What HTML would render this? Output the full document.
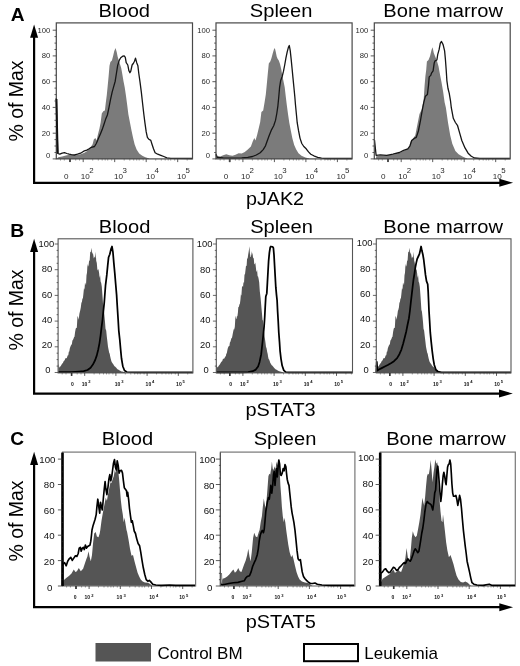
<!DOCTYPE html>
<html><head><meta charset="utf-8"><title>Figure</title>
<style>
html,body{margin:0;padding:0;background:#fff;}
body{width:520px;height:666px;overflow:hidden;}
svg{display:block;filter:blur(0.4px);}
text{font-family:"Liberation Sans",sans-serif;}
.t{font-size:19px;fill:#000;}
.pl{font-size:17.9px;font-weight:bold;fill:#000;}
.lg{font-size:17px;fill:#000;}
.ya{font-size:7.7px;fill:#2a2a2a;text-anchor:end;}
.yb{font-size:9.4px;fill:#111;text-anchor:end;}
.yc{font-size:9.7px;fill:#111;text-anchor:end;}
.xa{font-size:8.1px;fill:#2a2a2a;}
.xas{font-size:7.9px;fill:#2a2a2a;}
.xb{font-size:5px;fill:#111;font-weight:bold;}
.xbs{font-size:4.1px;fill:#111;font-weight:bold;}
</style></head><body>
<svg width="520" height="666" viewBox="0 0 520 666">
<rect width="520" height="666" fill="#fff"/>

<text class="pl" transform="translate(10.8 20.9) scale(1.07 1)">A</text>
<g transform="translate(124.3 16.7) scale(1.060 1)"><text class="t" text-anchor="middle" x="0" y="0">Blood</text></g>
<g transform="translate(281.1 16.7) scale(1.060 1)"><text class="t" text-anchor="middle" x="0" y="0">Spleen</text></g>
<g transform="translate(443.2 16.7) scale(1.060 1)"><text class="t" text-anchor="middle" x="0" y="0">Bone marrow</text></g>
<text class="t" style="font-size:20.2px" text-anchor="middle" transform="translate(22.7 101) rotate(-90) scale(0.965 1)">% of Max</text>
<g transform="translate(275.0 204.9) scale(1.040 1)"><text class="t" text-anchor="middle" x="0" y="0">pJAK2</text></g>
<path d="M34.1 36.7 V182.8 H501.1" fill="none" stroke="#000" stroke-width="2.2"/>
<path d="M34.1 24.4 l-4 13.3 h8 z" fill="#000"/>
<path d="M513.1 182.8 l-13.8 -4 v8 z" fill="#000"/>
<polygon points="56.3,158.9 58.3,157.3 62.2,156.5 66.8,155.3 71.4,154.7 76.0,155.3 80.6,154.2 84.5,152.7 86.8,151.2 89.1,148.8 91.1,146.5 92.6,144.2 93.8,139.6 95.4,138.1 96.6,140.4 97.8,135.0 99.4,128.8 100.6,122.7 101.8,113.5 103.3,111.2 104.9,110.4 105.7,103.5 106.8,95.0 107.7,85.8 108.6,76.5 109.5,65.8 110.4,61.9 111.9,60.4 113.0,56.5 114.2,51.2 115.5,48.1 116.7,51.9 117.6,56.5 118.5,59.6 119.8,63.5 121.2,68.1 122.2,73.5 123.5,81.2 124.7,87.3 126.0,96.0 127.2,105.0 128.4,114.5 130.0,122.7 131.5,130.4 133.1,138.1 134.6,144.2 136.6,149.6 139.2,153.5 142.3,155.8 145.4,157.3 149.2,158.4 149.2,158.9 56.3,158.9" fill="#7b7b7b"/>
<polyline points="56.3,98.0 57.0,127.7 57.8,153.5 59.8,154.2 62.2,153.2 64.5,152.7 66.8,153.5 69.1,154.2 71.4,154.7 74.5,155.0 77.5,154.2 80.6,153.2 83.7,151.2 86.8,150.1 89.1,148.8 91.4,147.3 94.5,146.5 96.3,143.5 98.3,138.8 100.6,133.5 102.2,129.6 104.0,124.2 105.5,119.6 107.4,115.0 109.0,107.3 110.5,99.6 112.2,91.9 113.9,85.8 115.2,81.2 116.4,73.5 117.6,65.8 119.2,60.4 120.7,57.8 122.7,56.2 124.2,55.8 125.3,57.3 126.2,62.7 127.8,65.0 128.8,70.4 129.9,72.7 130.8,71.2 132.1,65.0 133.3,63.5 134.5,61.2 135.5,58.1 136.7,62.7 137.9,65.8 138.8,73.5 140.1,82.7 141.3,91.9 142.6,103.5 143.8,114.0 144.9,122.7 146.2,131.9 147.4,137.3 148.9,139.3 150.8,140.4 152.0,144.2 153.5,148.8 155.1,152.7 157.7,154.2 160.8,155.3 163.8,156.5 166.9,157.8 170.8,158.4 192.3,158.5" fill="none" stroke="#151515" stroke-width="1.3" stroke-linejoin="round"/>
<rect x="56.3" y="22.9" width="136.2" height="136.0" fill="none" stroke="#484848" stroke-width="1.2"/>
<path d="M56.5 99 L57.0 125 L57.7 153.5" stroke="#111" stroke-width="1.9" fill="none"/>
<path d="M56.3 30.2h-3.6M56.3 36.6h-1.8M56.3 43.1h-1.8M56.3 49.5h-1.8M56.3 55.9h-3.6M56.3 62.4h-1.8M56.3 68.8h-1.8M56.3 75.2h-1.8M56.3 81.7h-3.6M56.3 88.1h-1.8M56.3 94.6h-1.8M56.3 101.0h-1.8M56.3 107.4h-3.6M56.3 113.9h-1.8M56.3 120.3h-1.8M56.3 126.7h-1.8M56.3 133.2h-3.6M56.3 139.6h-1.8M56.3 146.0h-1.8M56.3 152.5h-1.8M56.3 158.9h-3.6" stroke="#484848" stroke-width="0.9" fill="none"/>
<text class="ya" x="50.3" y="32.6">100</text>
<text class="ya" x="50.3" y="58.3">80</text>
<text class="ya" x="50.3" y="84.1">60</text>
<text class="ya" x="50.3" y="109.8">40</text>
<text class="ya" x="50.3" y="135.6">20</text>
<text class="ya" x="50.3" y="158.4">0</text>
<path d="M60.5 158.9v1.7M64.3 158.9v1.7M75.7 158.9v1.7M79.5 158.9v1.7M92.7 158.9v1.7M98.3 158.9v1.7M102.2 158.9v1.7M105.2 158.9v1.7M107.7 158.9v1.7M111.7 158.9v1.7M124.2 158.9v1.7M129.8 158.9v1.7M133.7 158.9v1.7M136.7 158.9v1.7M139.2 158.9v1.7M143.2 158.9v1.7M155.7 158.9v1.7M161.3 158.9v1.7M165.2 158.9v1.7M168.2 158.9v1.7M170.7 158.9v1.7M174.7 158.9v1.7M187.2 158.9v1.7" stroke="#484848" stroke-width="0.9" fill="none" opacity="0.55"/>
<path d="M70.0 158.9v3.2M83.2 158.9v3.2M114.7 158.9v3.2M146.2 158.9v3.2M177.7 158.9v3.2" stroke="#484848" stroke-width="0.9" fill="none"/>
<path d="M70.0 158.9v3.2" stroke="#484848" stroke-width="1.8" fill="none"/>
<text class="xa" text-anchor="middle" x="66.3" y="178.8">0</text>
<text class="xa" text-anchor="middle" x="85.3" y="178.8">10</text>
<text class="xas" x="89.3" y="172.7">2</text>
<text class="xa" text-anchor="middle" x="118.6" y="178.8">10</text>
<text class="xas" x="122.6" y="172.7">3</text>
<text class="xa" text-anchor="middle" x="150.6" y="178.8">10</text>
<text class="xas" x="154.6" y="172.7">4</text>
<text class="xa" text-anchor="middle" x="181.6" y="178.8">10</text>
<text class="xas" x="185.6" y="172.7">5</text>
<polygon points="215.8,158.9 215.8,151.9 217.1,155.8 220.2,156.5 223.2,155.3 226.3,154.2 229.4,155.3 232.5,155.8 235.5,154.7 238.6,153.2 241.7,153.5 244.8,151.9 247.8,149.6 250.9,146.5 252.8,141.2 254.3,138.1 255.5,140.4 257.1,135.0 258.6,128.8 260.2,121.9 261.4,111.9 263.2,110.4 264.5,102.7 265.8,94.5 266.8,84.2 267.8,73.5 268.8,63.5 270.4,61.2 271.5,58.1 272.7,53.5 273.9,49.6 274.8,48.1 275.8,51.9 276.7,56.5 277.6,58.8 278.8,60.4 280.1,64.2 281.3,69.6 282.2,75.0 283.5,81.2 284.7,87.3 285.7,96.0 286.8,105.0 288.0,114.0 289.3,122.7 290.8,130.4 292.3,138.1 294.2,145.0 296.2,149.6 298.5,153.2 301.5,155.8 305.4,157.5 309.2,158.4 309.2,158.9 215.8,158.9" fill="#7b7b7b"/>
<polyline points="216.0,154.2 217.1,157.3 223.2,157.8 232.5,158.1 241.7,157.8 247.8,157.3 252.5,156.5 256.3,155.0 260.2,152.7 263.2,149.6 265.5,145.8 267.1,141.2 269.1,135.8 271.2,130.4 273.7,125.8 275.5,120.4 276.8,113.5 277.9,105.8 278.8,96.5 279.6,87.3 280.7,80.4 282.2,76.5 283.5,71.2 284.7,65.0 285.9,58.1 287.2,51.9 288.4,47.3 289.3,45.5 290.2,50.4 291.2,59.6 292.1,68.8 293.0,78.1 293.9,87.3 294.8,96.5 295.5,105.0 296.4,114.2 297.2,122.7 298.5,130.4 300.0,138.1 301.8,143.5 303.8,146.5 306.2,148.8 308.5,151.9 310.8,154.2 313.8,155.8 317.7,157.3 321.5,158.2 326.2,158.5 352.0,158.5" fill="none" stroke="#151515" stroke-width="1.3" stroke-linejoin="round"/>
<rect x="216.0" y="22.9" width="136.1" height="136.0" fill="none" stroke="#484848" stroke-width="1.2"/>
<path d="M216.0 30.2h-3.6M216.0 36.6h-1.8M216.0 43.1h-1.8M216.0 49.5h-1.8M216.0 55.9h-3.6M216.0 62.4h-1.8M216.0 68.8h-1.8M216.0 75.2h-1.8M216.0 81.7h-3.6M216.0 88.1h-1.8M216.0 94.6h-1.8M216.0 101.0h-1.8M216.0 107.4h-3.6M216.0 113.9h-1.8M216.0 120.3h-1.8M216.0 126.7h-1.8M216.0 133.2h-3.6M216.0 139.6h-1.8M216.0 146.0h-1.8M216.0 152.5h-1.8M216.0 158.9h-3.6" stroke="#484848" stroke-width="0.9" fill="none"/>
<text class="ya" x="210.0" y="32.6">100</text>
<text class="ya" x="210.0" y="58.3">80</text>
<text class="ya" x="210.0" y="84.1">60</text>
<text class="ya" x="210.0" y="109.8">40</text>
<text class="ya" x="210.0" y="135.6">20</text>
<text class="ya" x="210.0" y="158.4">0</text>
<path d="M220.2 158.9v1.7M224.0 158.9v1.7M235.4 158.9v1.7M239.1 158.9v1.7M252.4 158.9v1.7M258.0 158.9v1.7M261.9 158.9v1.7M264.9 158.9v1.7M267.4 158.9v1.7M271.4 158.9v1.7M283.9 158.9v1.7M289.5 158.9v1.7M293.4 158.9v1.7M296.4 158.9v1.7M298.9 158.9v1.7M302.9 158.9v1.7M315.4 158.9v1.7M321.0 158.9v1.7M324.9 158.9v1.7M327.9 158.9v1.7M330.4 158.9v1.7M334.4 158.9v1.7M346.9 158.9v1.7" stroke="#484848" stroke-width="0.9" fill="none" opacity="0.55"/>
<path d="M229.7 158.9v3.2M242.9 158.9v3.2M274.4 158.9v3.2M305.9 158.9v3.2M337.4 158.9v3.2" stroke="#484848" stroke-width="0.9" fill="none"/>
<path d="M229.7 158.9v3.2" stroke="#484848" stroke-width="1.8" fill="none"/>
<text class="xa" text-anchor="middle" x="226.0" y="178.8">0</text>
<text class="xa" text-anchor="middle" x="245.5" y="178.8">10</text>
<text class="xas" x="249.5" y="172.7">2</text>
<text class="xa" text-anchor="middle" x="278.2" y="178.8">10</text>
<text class="xas" x="282.2" y="172.7">3</text>
<text class="xa" text-anchor="middle" x="309.8" y="178.8">10</text>
<text class="xas" x="313.8" y="172.7">4</text>
<text class="xa" text-anchor="middle" x="341.0" y="178.8">10</text>
<text class="xas" x="345.0" y="172.7">5</text>
<polygon points="376.1,156.3 386.7,155.3 395.2,154.2 401.5,152.1 405.7,150.0 408.9,147.9 411.0,140.5 413.1,138.4 415.3,135.2 417.4,124.6 419.5,114.0 421.6,109.8 423.4,101.3 423.8,97.7 424.6,85.4 425.4,76.2 426.2,70.0 426.9,61.5 428.5,60.0 430.0,56.2 431.5,50.0 432.6,47.2 433.8,53.1 435.4,56.9 436.9,60.8 438.5,66.2 440.0,74.6 441.5,82.3 443.1,91.5 444.6,102.3 445.9,107.7 448.0,122.5 450.2,135.2 452.3,143.7 455.4,151.1 458.6,154.2 462.9,156.8 467.1,158.5 467.1,158.9 376.1,158.9" fill="#7b7b7b"/>
<polyline points="374.5,140.0 376.1,155.3 380.3,154.9 386.7,155.3 393.0,154.2 399.4,152.5 403.6,150.4 407.8,148.9 410.0,145.8 411.7,140.5 414.2,138.4 416.3,137.3 418.4,131.0 420.5,120.4 422.3,110.0 423.8,102.3 425.4,96.2 427.4,94.6 428.5,85.4 429.2,76.9 430.8,75.4 431.5,73.1 433.1,70.8 434.2,63.1 435.1,60.8 436.9,60.0 437.7,54.6 439.2,49.2 440.3,43.1 441.5,41.5 443.1,44.6 444.6,50.8 445.4,59.2 446.2,70.0 446.9,80.8 448.0,88.5 449.2,93.1 450.5,100.8 451.3,107.7 453.3,118.3 455.4,122.5 457.6,125.7 459.7,133.1 461.8,140.5 465.0,147.9 468.1,153.2 471.3,156.3 474.5,158.0 479.8,158.5 510.0,158.5" fill="none" stroke="#151515" stroke-width="1.3" stroke-linejoin="round"/>
<rect x="374.3" y="22.9" width="135.9" height="136.0" fill="none" stroke="#484848" stroke-width="1.2"/>
<path d="M374.3 30.2h-3.6M374.3 36.6h-1.8M374.3 43.1h-1.8M374.3 49.5h-1.8M374.3 55.9h-3.6M374.3 62.4h-1.8M374.3 68.8h-1.8M374.3 75.2h-1.8M374.3 81.7h-3.6M374.3 88.1h-1.8M374.3 94.6h-1.8M374.3 101.0h-1.8M374.3 107.4h-3.6M374.3 113.9h-1.8M374.3 120.3h-1.8M374.3 126.7h-1.8M374.3 133.2h-3.6M374.3 139.6h-1.8M374.3 146.0h-1.8M374.3 152.5h-1.8M374.3 158.9h-3.6" stroke="#484848" stroke-width="0.9" fill="none"/>
<text class="ya" x="368.3" y="32.6">100</text>
<text class="ya" x="368.3" y="58.3">80</text>
<text class="ya" x="368.3" y="84.1">60</text>
<text class="ya" x="368.3" y="109.8">40</text>
<text class="ya" x="368.3" y="135.6">20</text>
<text class="ya" x="368.3" y="158.4">0</text>
<path d="M378.6 158.9v1.7M382.3 158.9v1.7M393.7 158.9v1.7M397.4 158.9v1.7M410.7 158.9v1.7M416.3 158.9v1.7M420.2 158.9v1.7M423.2 158.9v1.7M425.7 158.9v1.7M429.7 158.9v1.7M442.2 158.9v1.7M447.8 158.9v1.7M451.7 158.9v1.7M454.7 158.9v1.7M457.2 158.9v1.7M461.2 158.9v1.7M473.7 158.9v1.7M479.3 158.9v1.7M483.2 158.9v1.7M486.2 158.9v1.7M488.7 158.9v1.7M492.7 158.9v1.7M505.2 158.9v1.7" stroke="#484848" stroke-width="0.9" fill="none" opacity="0.55"/>
<path d="M388.0 158.9v3.2M401.2 158.9v3.2M432.7 158.9v3.2M464.2 158.9v3.2M495.7 158.9v3.2" stroke="#484848" stroke-width="0.9" fill="none"/>
<path d="M388.0 158.9v3.2" stroke="#484848" stroke-width="1.8" fill="none"/>
<text class="xa" text-anchor="middle" x="383.3" y="178.8">0</text>
<text class="xa" text-anchor="middle" x="402.8" y="178.8">10</text>
<text class="xas" x="406.8" y="172.7">2</text>
<text class="xa" text-anchor="middle" x="436.3" y="178.8">10</text>
<text class="xas" x="440.3" y="172.7">3</text>
<text class="xa" text-anchor="middle" x="467.4" y="178.8">10</text>
<text class="xas" x="471.4" y="172.7">4</text>
<text class="xa" text-anchor="middle" x="497.2" y="178.8">10</text>
<text class="xas" x="501.2" y="172.7">5</text>
<text class="pl" transform="translate(10.2 236.8) scale(1.08 1)">B</text>
<g transform="translate(124.6 233.0) scale(1.060 1)"><text class="t" text-anchor="middle" x="0" y="0">Blood</text></g>
<g transform="translate(281.5 233.0) scale(1.060 1)"><text class="t" text-anchor="middle" x="0" y="0">Spleen</text></g>
<g transform="translate(443.2 233.0) scale(1.060 1)"><text class="t" text-anchor="middle" x="0" y="0">Bone marrow</text></g>
<text class="t" style="font-size:20.2px" text-anchor="middle" transform="translate(22.7 310) rotate(-90) scale(0.965 1)">% of Max</text>
<g transform="translate(280.6 416.0) scale(1.050 1)"><text class="t" text-anchor="middle" x="0" y="0">pSTAT3</text></g>
<path d="M34.1 251.1 V393.6 H500.8" fill="none" stroke="#000" stroke-width="2.2"/>
<path d="M34.1 238.8 l-4 13.3 h8 z" fill="#000"/>
<path d="M512.8 393.6 l-13.8 -4 v8 z" fill="#000"/>
<polygon points="58.3,372.9 58.5,363.6 59.4,367.7 60.0,366.7 60.6,366.2 61.1,365.4 61.5,364.6 62.0,364.3 62.4,363.3 62.9,362.9 63.4,361.8 63.8,361.0 64.3,360.6 64.7,360.2 65.2,358.6 65.7,358.2 66.3,358.2 66.8,358.1 67.3,356.6 67.8,355.3 68.3,355.2 68.8,351.8 69.3,351.4 69.8,348.5 70.3,346.9 70.9,345.5 71.4,344.7 71.9,344.1 72.4,340.6 72.9,339.9 73.4,339.0 74.0,337.2 74.5,336.7 75.1,332.0 75.7,328.8 76.2,327.7 76.8,327.9 77.5,316.0 78.0,317.0 78.5,319.8 79.0,316.9 79.4,313.8 80.3,310.1 80.8,307.5 81.4,302.8 81.9,301.9 82.4,298.7 82.9,298.2 83.4,294.1 84.0,288.0 84.5,289.8 85.0,282.5 85.5,283.7 86.0,285.2 86.5,275.3 87.0,272.8 87.5,263.7 88.0,266.7 88.6,265.0 89.1,260.7 89.7,260.5 90.2,251.8 90.8,252.2 91.4,247.7 92.2,254.5 92.7,252.1 93.2,254.8 93.8,258.5 94.5,256.6 95.1,258.0 95.7,251.7 96.2,260.7 96.8,262.9 97.3,269.1 97.8,270.6 98.4,269.0 99.1,272.9 99.6,277.9 100.1,275.3 100.6,281.4 101.2,283.1 101.8,286.8 102.6,297.6 103.4,310.0 104.0,311.4 104.5,316.8 105.0,322.1 105.5,328.7 106.2,330.4 106.8,336.4 107.4,341.4 108.0,346.8 108.6,349.7 109.2,352.7 109.7,353.8 110.1,356.1 110.6,358.2 111.1,360.3 111.7,361.9 112.2,362.7 112.7,363.4 113.1,364.1 113.6,364.7 114.0,365.5 114.5,366.2 115.0,366.5 115.5,366.9 116.0,367.6 116.5,368.1 117.0,368.7 117.5,369.3 118.0,369.5 118.5,369.8 119.0,370.1 119.6,370.5 120.1,370.7 120.6,371.1 121.1,371.2 121.5,371.4 122.0,371.5 122.4,371.6 122.9,371.7 123.4,371.8 123.8,371.9 124.3,372.0 124.7,372.1 125.2,372.3 125.2,372.9 58.3,372.9" fill="#555"/>
<polyline points="58.3,372.0 71.4,372.0 79.1,371.5 83.7,371.1 87.5,370.0 90.6,367.7 92.9,364.6 95.2,360.0 96.8,355.4 98.3,349.2 99.5,343.1 100.6,335.4 101.5,327.7 102.5,320.0 103.4,310.8 104.2,303.1 104.7,296.5 105.5,285.7 106.8,274.9 107.7,265.7 108.6,257.2 109.8,254.2 111.1,248.8 112.0,246.5 112.9,251.8 113.8,262.6 114.8,273.4 115.7,284.2 116.6,294.9 117.2,305.0 118.1,319.0 118.8,330.8 119.8,340.0 120.6,349.2 121.5,358.5 122.8,366.2 124.5,370.5 126.8,372.0 136.0,372.3 192.9,372.3" fill="none" stroke="#000" stroke-width="1.75" stroke-linejoin="round"/>
<rect x="58.1" y="238.8" width="134.8" height="134.1" fill="none" stroke="#555" stroke-width="1.1"/>
<path d="M58.1 244.0h-3.4M58.1 250.4h-1.5M58.1 256.9h-1.5M58.1 263.3h-1.5M58.1 269.7h-3.4M58.1 276.1h-1.5M58.1 282.6h-1.5M58.1 289.0h-1.5M58.1 295.4h-3.4M58.1 301.8h-1.5M58.1 308.2h-1.5M58.1 314.7h-1.5M58.1 321.1h-3.4M58.1 327.5h-1.5M58.1 333.9h-1.5M58.1 340.4h-1.5M58.1 346.8h-3.4M58.1 353.2h-1.5M58.1 359.6h-1.5M58.1 366.1h-1.5M58.1 372.5h-3.4" stroke="#444" stroke-width="0.8" fill="none"/>
<text class="yb" x="54.2" y="247.2">100</text>
<text class="yb" x="52.3" y="272.4">80</text>
<text class="yb" x="52.3" y="297.6">60</text>
<text class="yb" x="52.3" y="322.8">40</text>
<text class="yb" x="52.3" y="348.0">20</text>
<text class="yb" x="50.5" y="373.2">0</text>
<path d="M62.2 372.9v1.6M66.0 372.9v1.6M77.2 372.9v1.6M81.0 372.9v1.6M94.1 372.9v1.6M99.6 372.9v1.6M103.5 372.9v1.6M106.5 372.9v1.6M109.0 372.9v1.6M112.9 372.9v1.6M125.3 372.9v1.6M130.8 372.9v1.6M134.7 372.9v1.6M137.7 372.9v1.6M140.2 372.9v1.6M144.1 372.9v1.6M156.5 372.9v1.6M162.0 372.9v1.6M165.9 372.9v1.6M168.9 372.9v1.6M171.4 372.9v1.6M175.3 372.9v1.6M187.7 372.9v1.6" stroke="#333" stroke-width="0.8" fill="none" opacity="0.55"/>
<path d="M71.6 372.9v3.0M84.7 372.9v3.0M115.9 372.9v3.0M147.1 372.9v3.0M178.3 372.9v3.0" stroke="#333" stroke-width="0.8" fill="none"/>
<path d="M71.6 372.9v3.0" stroke="#333" stroke-width="1.6" fill="none"/>
<text class="xb" text-anchor="middle" x="72.5" y="385.8">0</text>
<text class="xb" text-anchor="middle" x="84.5" y="385.8">10</text>
<text class="xbs" x="88.2" y="383.1">2</text>
<text class="xb" text-anchor="middle" x="117.5" y="385.8">10</text>
<text class="xbs" x="121.2" y="383.1">3</text>
<text class="xb" text-anchor="middle" x="148.4" y="385.8">10</text>
<text class="xbs" x="152.1" y="383.1">4</text>
<text class="xb" text-anchor="middle" x="178.9" y="385.8">10</text>
<text class="xbs" x="182.6" y="383.1">5</text>
<polygon points="216.3,372.9 216.5,363.6 216.9,365.9 217.4,367.5 218.0,366.9 218.6,366.1 219.1,365.2 219.5,364.9 220.0,363.9 220.4,363.6 220.9,362.6 221.4,361.8 221.8,361.4 222.3,361.0 222.7,359.4 223.2,358.7 223.7,358.7 224.3,358.6 224.8,357.6 225.3,356.4 225.8,356.2 226.3,353.7 226.8,353.2 227.3,350.4 227.8,348.2 228.3,346.9 228.9,346.0 229.4,345.9 229.9,342.5 230.4,341.7 230.9,340.1 231.4,338.3 232.0,337.7 232.5,335.2 233.1,332.0 233.7,329.3 234.2,329.5 234.8,327.0 235.5,315.4 236.0,318.3 236.5,319.2 236.9,316.2 237.4,316.3 237.9,312.7 238.3,307.2 238.9,306.8 239.4,304.5 239.9,303.7 240.4,300.0 240.9,294.3 241.4,295.8 242.0,286.8 242.5,285.7 243.0,287.2 243.5,281.7 244.0,283.2 244.5,274.4 245.0,274.3 245.5,270.1 246.0,265.8 246.6,266.0 247.1,258.2 247.6,258.7 248.2,254.6 248.8,251.0 249.4,246.3 250.2,257.1 250.7,257.0 251.2,251.1 251.8,255.7 252.5,252.5 253.1,258.4 253.7,257.5 254.2,263.5 254.8,264.5 255.3,262.6 255.8,266.7 256.4,272.3 257.1,269.9 257.6,276.2 258.1,276.5 258.6,278.7 259.2,282.3 259.8,291.3 260.6,298.0 261.4,307.2 261.9,312.7 262.5,319.7 263.0,320.8 263.5,327.0 264.1,332.1 264.8,337.7 265.4,342.1 266.0,346.8 266.6,348.6 267.2,351.9 267.7,354.0 268.1,356.8 268.6,358.9 269.1,359.5 269.7,361.1 270.2,362.8 270.7,363.4 271.1,364.2 271.6,364.9 272.0,365.4 272.5,365.8 273.0,366.6 273.5,367.1 274.0,367.7 274.5,368.3 275.0,368.7 275.5,369.2 276.0,369.5 276.5,369.8 277.1,370.0 277.6,370.5 278.1,370.8 278.6,371.1 279.1,371.2 279.5,371.3 280.0,371.4 280.4,371.5 280.9,371.7 281.4,371.8 281.8,371.9 282.3,372.0 282.7,372.2 283.2,372.3 283.2,372.9 216.3,372.9" fill="#555"/>
<polyline points="216.3,372.3 240.4,372.3 248.1,372.1 252.7,371.2 255.8,369.6 258.1,366.5 259.6,361.9 261.2,354.2 262.2,345.0 263.2,335.8 264.1,326.5 264.7,317.3 265.2,307.2 265.8,296.5 266.8,293.4 267.4,282.6 268.0,271.8 268.6,261.1 269.4,252.6 270.2,247.5 270.8,246.5 272.6,246.8 273.4,248.0 274.0,254.9 274.6,265.7 275.2,276.5 275.8,287.2 276.5,294.9 277.1,300.5 277.6,311.0 278.2,321.0 278.8,332.7 279.5,341.9 280.1,351.2 281.0,358.8 282.2,365.8 283.8,370.4 285.8,372.2 289.6,372.3 352.5,372.3" fill="none" stroke="#000" stroke-width="1.75" stroke-linejoin="round"/>
<rect x="216.3" y="238.8" width="136.2" height="134.1" fill="none" stroke="#555" stroke-width="1.1"/>
<path d="M216.3 244.0h-3.4M216.3 250.4h-1.5M216.3 256.9h-1.5M216.3 263.3h-1.5M216.3 269.7h-3.4M216.3 276.1h-1.5M216.3 282.6h-1.5M216.3 289.0h-1.5M216.3 295.4h-3.4M216.3 301.8h-1.5M216.3 308.2h-1.5M216.3 314.7h-1.5M216.3 321.1h-3.4M216.3 327.5h-1.5M216.3 333.9h-1.5M216.3 340.4h-1.5M216.3 346.8h-3.4M216.3 353.2h-1.5M216.3 359.6h-1.5M216.3 366.1h-1.5M216.3 372.5h-3.4" stroke="#444" stroke-width="0.8" fill="none"/>
<text class="yb" x="212.4" y="247.4">100</text>
<text class="yb" x="210.5" y="272.6">80</text>
<text class="yb" x="210.5" y="297.7">60</text>
<text class="yb" x="210.5" y="322.9">40</text>
<text class="yb" x="210.5" y="348.0">20</text>
<text class="yb" x="208.7" y="373.2">0</text>
<path d="M220.4 372.9v1.6M224.2 372.9v1.6M235.4 372.9v1.6M239.2 372.9v1.6M252.3 372.9v1.6M257.8 372.9v1.6M261.7 372.9v1.6M264.7 372.9v1.6M267.2 372.9v1.6M271.1 372.9v1.6M283.5 372.9v1.6M289.0 372.9v1.6M292.9 372.9v1.6M295.9 372.9v1.6M298.4 372.9v1.6M302.3 372.9v1.6M314.7 372.9v1.6M320.2 372.9v1.6M324.1 372.9v1.6M327.1 372.9v1.6M329.6 372.9v1.6M333.5 372.9v1.6M345.9 372.9v1.6M351.4 372.9v1.6" stroke="#333" stroke-width="0.8" fill="none" opacity="0.55"/>
<path d="M229.8 372.9v3.0M242.9 372.9v3.0M274.1 372.9v3.0M305.3 372.9v3.0M336.5 372.9v3.0" stroke="#333" stroke-width="0.8" fill="none"/>
<path d="M229.8 372.9v3.0" stroke="#333" stroke-width="1.6" fill="none"/>
<text class="xb" text-anchor="middle" x="230.7" y="385.8">0</text>
<text class="xb" text-anchor="middle" x="242.7" y="385.8">10</text>
<text class="xbs" x="246.4" y="383.1">2</text>
<text class="xb" text-anchor="middle" x="275.7" y="385.8">10</text>
<text class="xbs" x="279.4" y="383.1">3</text>
<text class="xb" text-anchor="middle" x="306.6" y="385.8">10</text>
<text class="xbs" x="310.3" y="383.1">4</text>
<text class="xb" text-anchor="middle" x="337.1" y="385.8">10</text>
<text class="xbs" x="340.8" y="383.1">5</text>
<polygon points="376.3,372.9 376.5,363.6 377.4,367.7 378.0,366.7 378.6,366.2 379.1,365.4 379.5,364.6 380.0,364.3 380.4,363.3 380.9,362.9 381.4,361.8 381.8,361.0 382.3,360.6 382.7,360.2 383.2,358.6 383.7,358.2 384.3,358.2 384.8,358.1 385.3,356.6 385.8,355.3 386.3,355.2 386.8,351.8 387.3,351.4 387.8,348.5 388.3,346.9 388.9,345.5 389.4,344.7 389.9,344.1 390.4,340.6 390.9,339.9 391.4,339.0 392.0,337.2 392.5,336.7 393.1,332.0 393.7,328.8 394.2,327.7 394.8,327.9 395.5,316.0 396.0,317.0 396.5,319.8 397.4,314.6 397.9,310.7 398.3,310.1 398.9,307.5 399.4,302.8 399.9,301.9 400.4,298.7 400.9,298.2 401.4,294.1 402.0,288.0 402.5,289.8 403.0,282.5 403.5,283.7 404.0,285.2 404.5,275.3 405.0,272.8 405.5,263.7 406.0,266.7 406.6,265.0 407.1,260.7 407.6,260.5 408.2,251.8 408.8,252.2 409.4,247.7 410.2,254.5 410.7,252.1 411.2,254.8 411.9,258.5 412.5,256.6 413.1,258.0 413.7,251.7 414.2,260.7 414.8,262.9 415.3,269.1 415.8,270.6 416.5,269.0 417.1,272.9 417.6,277.9 418.1,275.3 418.6,281.4 419.2,283.1 419.8,286.8 420.6,297.6 421.4,310.0 421.9,311.4 422.5,316.8 423.0,322.1 423.5,328.7 424.1,330.4 424.8,336.4 425.4,341.4 426.0,346.8 426.6,349.7 427.2,352.7 427.7,353.8 428.1,356.1 428.6,358.2 429.1,360.3 429.7,361.9 430.2,362.7 430.7,363.4 431.1,364.1 431.6,364.7 432.0,365.5 432.5,366.2 433.0,366.5 433.5,366.9 434.0,367.6 434.5,368.1 435.0,368.7 435.5,369.3 436.0,369.5 436.5,369.8 437.1,370.1 437.6,370.5 438.1,370.7 438.6,371.1 439.1,371.2 439.5,371.4 440.0,371.5 440.4,371.6 440.9,371.7 441.4,371.8 441.8,371.9 442.3,372.0 442.7,372.1 443.2,372.3 443.2,372.9 376.3,372.9" fill="#555"/>
<polyline points="376.3,372.3 376.8,361.9 377.4,370.4 379.4,369.3 381.7,368.1 384.8,366.5 387.8,365.0 390.9,363.2 394.0,361.2 397.1,358.1 399.4,354.2 401.4,349.6 403.2,343.5 404.8,337.3 406.3,331.2 407.5,325.0 408.9,318.4 409.9,311.0 410.8,302.6 411.7,294.9 412.6,287.2 413.5,279.5 414.5,273.4 415.4,267.2 416.3,262.6 417.2,258.8 418.3,256.5 419.4,254.2 420.3,250.3 421.1,246.5 421.8,250.3 422.8,254.2 423.7,259.5 424.6,267.2 425.5,274.9 426.5,281.1 427.7,284.2 428.2,292.0 428.6,301.0 429.0,311.0 429.6,320.5 430.3,332.7 431.2,341.9 432.2,351.2 433.2,358.8 434.3,365.0 435.8,369.6 437.8,371.5 440.9,372.3 511.0,372.3" fill="none" stroke="#000" stroke-width="1.75" stroke-linejoin="round"/>
<rect x="376.3" y="238.8" width="134.7" height="134.1" fill="none" stroke="#555" stroke-width="1.1"/>
<path d="M376.3 244.0h-3.4M376.3 250.4h-1.5M376.3 256.9h-1.5M376.3 263.3h-1.5M376.3 269.7h-3.4M376.3 276.1h-1.5M376.3 282.6h-1.5M376.3 289.0h-1.5M376.3 295.4h-3.4M376.3 301.8h-1.5M376.3 308.2h-1.5M376.3 314.7h-1.5M376.3 321.1h-3.4M376.3 327.5h-1.5M376.3 333.9h-1.5M376.3 340.4h-1.5M376.3 346.8h-3.4M376.3 353.2h-1.5M376.3 359.6h-1.5M376.3 366.1h-1.5M376.3 372.5h-3.4" stroke="#444" stroke-width="0.8" fill="none"/>
<text class="yb" x="372.4" y="246.2">100</text>
<text class="yb" x="370.5" y="271.6">80</text>
<text class="yb" x="370.5" y="297.0">60</text>
<text class="yb" x="370.5" y="322.4">40</text>
<text class="yb" x="370.5" y="347.8">20</text>
<text class="yb" x="368.7" y="373.2">0</text>
<path d="M380.4 372.9v1.6M384.2 372.9v1.6M395.4 372.9v1.6M399.2 372.9v1.6M412.3 372.9v1.6M417.8 372.9v1.6M421.7 372.9v1.6M424.7 372.9v1.6M427.2 372.9v1.6M431.1 372.9v1.6M443.5 372.9v1.6M449.0 372.9v1.6M452.9 372.9v1.6M455.9 372.9v1.6M458.4 372.9v1.6M462.3 372.9v1.6M474.7 372.9v1.6M480.2 372.9v1.6M484.1 372.9v1.6M487.1 372.9v1.6M489.6 372.9v1.6M493.5 372.9v1.6M505.9 372.9v1.6" stroke="#333" stroke-width="0.8" fill="none" opacity="0.55"/>
<path d="M389.8 372.9v3.0M402.9 372.9v3.0M434.1 372.9v3.0M465.3 372.9v3.0M496.5 372.9v3.0" stroke="#333" stroke-width="0.8" fill="none"/>
<path d="M389.8 372.9v3.0" stroke="#333" stroke-width="1.6" fill="none"/>
<text class="xb" text-anchor="middle" x="390.7" y="385.8">0</text>
<text class="xb" text-anchor="middle" x="402.7" y="385.8">10</text>
<text class="xbs" x="406.4" y="383.1">2</text>
<text class="xb" text-anchor="middle" x="435.7" y="385.8">10</text>
<text class="xbs" x="439.4" y="383.1">3</text>
<text class="xb" text-anchor="middle" x="466.6" y="385.8">10</text>
<text class="xbs" x="470.3" y="383.1">4</text>
<text class="xb" text-anchor="middle" x="497.1" y="385.8">10</text>
<text class="xbs" x="500.8" y="383.1">5</text>
<text class="pl" transform="translate(10.3 444.5) scale(1.07 1)">C</text>
<g transform="translate(127.5 445.4) scale(1.060 1)"><text class="t" text-anchor="middle" x="0" y="0">Blood</text></g>
<g transform="translate(285.0 445.4) scale(1.060 1)"><text class="t" text-anchor="middle" x="0" y="0">Spleen</text></g>
<g transform="translate(446.0 445.4) scale(1.060 1)"><text class="t" text-anchor="middle" x="0" y="0">Bone marrow</text></g>
<text class="t" style="font-size:20.2px" text-anchor="middle" transform="translate(22.7 521) rotate(-90) scale(0.965 1)">% of Max</text>
<g transform="translate(280.8 628.3) scale(1.050 1)"><text class="t" text-anchor="middle" x="0" y="0">pSTAT5</text></g>
<path d="M34.1 464.1 V607.2 H501.1" fill="none" stroke="#000" stroke-width="2.2"/>
<path d="M34.1 451.8 l-4 13.3 h8 z" fill="#000"/>
<path d="M513.1 607.2 l-13.8 -4 v8 z" fill="#000"/>
<polygon points="62.5,586.0 63.4,580.4 66.2,578.1 69.2,575.8 71.5,573.5 73.8,569.6 75.4,571.9 76.9,571.2 78.8,568.1 80.8,571.2 83.1,568.8 84.6,564.2 86.2,559.6 87.4,556.5 88.5,551.2 89.5,556.5 90.8,561.2 92.0,555.0 93.1,542.7 94.2,533.5 95.7,531.9 96.9,536.5 98.5,537.3 99.7,533.5 100.3,530.0 101.5,520.8 103.1,511.5 104.6,503.8 105.8,497.7 106.9,500.8 108.0,494.6 109.2,488.5 110.5,482.3 111.5,483.1 112.6,479.2 113.8,476.2 114.8,470.0 115.7,473.1 116.6,465.4 117.5,462.3 118.2,470.0 119.1,479.2 120.0,490.0 120.9,500.8 121.8,508.5 122.8,514.6 123.7,522.3 124.6,517.7 125.5,523.8 126.5,530.0 127.1,531.9 128.5,539.6 130.0,548.8 131.5,555.8 133.0,555.0 134.5,561.2 136.1,567.3 137.6,572.7 139.2,576.5 140.7,579.6 142.7,581.5 145.0,582.4 148.1,582.7 150.4,584.2 152.7,586.0 152.7,586.0 62.5,586.0" fill="#555"/>
<rect x="62.5" y="452.1" width="133.1" height="133.9" fill="none" stroke="#777" stroke-width="1.2"/>
<polyline points="62.5,585.4 62.8,564.2 64.6,562.7 66.2,565.8 67.7,561.2 69.2,558.8 70.8,557.3 72.3,560.4 73.8,558.1 75.4,555.8 76.9,556.5 78.2,553.5 79.2,548.1 80.3,547.3 81.2,551.2 82.3,548.1 83.4,547.3 84.3,549.6 85.4,545.0 86.5,548.1 87.7,546.5 88.9,545.8 90.0,545.0 90.8,541.2 91.5,535.0 92.0,530.0 93.1,525.4 95.1,519.2 96.2,514.6 96.9,506.9 97.8,499.2 98.8,506.9 99.7,513.1 100.5,502.3 101.5,506.9 102.3,510.0 103.4,497.7 104.3,488.5 105.1,481.5 105.8,488.5 106.9,494.6 108.0,486.9 108.9,479.2 109.8,474.6 110.8,480.8 111.7,476.9 112.6,470.0 113.5,463.1 114.5,459.5 115.4,466.9 116.3,470.0 117.2,460.8 118.2,465.4 119.1,473.1 120.0,470.8 121.5,470.3 122.5,473.1 123.4,480.8 124.3,487.7 125.4,489.2 126.5,490.8 127.1,496.2 127.7,492.3 128.6,499.2 129.5,508.5 130.5,516.2 131.4,522.3 132.3,520.8 133.2,525.4 134.2,531.0 135.5,533.5 136.5,538.1 138.1,543.5 139.6,545.8 140.7,551.9 141.9,559.6 143.2,567.3 144.7,574.2 146.2,579.6 147.8,581.2 149.3,580.4 150.8,581.9 152.7,584.2 155.8,585.0 161.9,585.4 169.6,585.0 175.8,585.4 195.0,585.4" fill="none" stroke="#000" stroke-width="1.65" stroke-linejoin="round"/>
<path d="M62.5 452.6V586.0" stroke="#000" stroke-width="2.6"/>
<path d="M62.5 459.1h-4.6M62.5 465.4h-1.5M62.5 471.8h-1.5M62.5 478.1h-1.5M62.5 484.5h-4.6M62.5 490.8h-1.5M62.5 497.2h-1.5M62.5 503.5h-1.5M62.5 509.9h-4.6M62.5 516.2h-1.5M62.5 522.5h-1.5M62.5 528.9h-1.5M62.5 535.2h-4.6M62.5 541.6h-1.5M62.5 547.9h-1.5M62.5 554.3h-1.5M62.5 560.6h-4.6M62.5 567.0h-1.5M62.5 573.3h-1.5M62.5 579.7h-1.5M62.5 586.0h-4.6" stroke="#333" stroke-width="0.8" fill="none"/>
<text class="yc" x="55.5" y="462.5">100</text>
<text class="yc" x="54.6" y="488.1">80</text>
<text class="yc" x="54.6" y="513.8">60</text>
<text class="yc" x="54.6" y="539.4">40</text>
<text class="yc" x="54.6" y="565.1">20</text>
<text class="yc" x="52.5" y="590.7">0</text>
<path d="M66.6 586.0v1.6M70.4 586.0v1.6M81.6 586.0v1.6M85.4 586.0v1.6M98.5 586.0v1.6M104.0 586.0v1.6M107.9 586.0v1.6M110.9 586.0v1.6M113.4 586.0v1.6M117.3 586.0v1.6M129.7 586.0v1.6M135.2 586.0v1.6M139.1 586.0v1.6M142.1 586.0v1.6M144.6 586.0v1.6M148.5 586.0v1.6M160.9 586.0v1.6M166.4 586.0v1.6M170.3 586.0v1.6M173.3 586.0v1.6M175.8 586.0v1.6M179.7 586.0v1.6M192.1 586.0v1.6" stroke="#333" stroke-width="0.8" fill="none" opacity="0.55"/>
<path d="M76.0 586.0v3.0M89.1 586.0v3.0M120.3 586.0v3.0M151.5 586.0v3.0M182.7 586.0v3.0" stroke="#333" stroke-width="0.8" fill="none"/>
<path d="M76.0 586.0v3.0" stroke="#333" stroke-width="1.6" fill="none"/>
<text class="xb" text-anchor="middle" x="75.1" y="598.8">0</text>
<text class="xb" text-anchor="middle" x="87.3" y="598.8">10</text>
<text class="xbs" x="91.3" y="596.5">2</text>
<text class="xb" text-anchor="middle" x="119.4" y="598.8">10</text>
<text class="xbs" x="123.4" y="596.5">3</text>
<text class="xb" text-anchor="middle" x="152.0" y="598.8">10</text>
<text class="xbs" x="156.0" y="596.5">4</text>
<text class="xb" text-anchor="middle" x="182.0" y="598.8">10</text>
<text class="xbs" x="186.0" y="596.5">5</text>
<polygon points="220.4,586.0 221.4,582.7 222.6,578.8 224.9,578.1 227.2,576.5 229.5,574.2 231.8,571.2 233.4,569.6 234.9,572.7 236.5,571.2 238.3,568.1 239.8,571.2 241.4,571.9 242.6,568.8 244.2,564.2 245.7,560.4 247.2,555.0 248.3,548.8 249.5,556.5 250.6,561.2 251.8,551.9 253.1,538.1 254.2,532.7 255.7,536.5 257.2,537.3 258.8,531.9 259.6,530.0 260.7,522.3 261.9,516.2 262.8,506.9 263.8,498.5 264.7,503.8 265.6,508.5 266.5,500.8 267.5,488.5 268.4,476.2 269.3,473.8 270.2,474.6 271.2,468.5 271.9,461.5 272.7,468.5 273.6,470.0 274.5,466.2 275.5,470.0 276.4,461.5 277.3,465.4 278.2,460.8 279.2,459.2 279.8,473.1 280.4,485.4 281.2,496.2 281.9,506.9 282.8,516.2 283.8,522.3 284.4,517.7 285.3,522.3 286.2,530.0 286.9,535.0 288.2,544.2 289.6,551.9 291.2,557.3 292.4,555.0 293.6,559.6 295.0,565.8 296.5,571.9 298.1,576.5 299.6,579.6 301.9,581.5 305.0,582.4 308.1,583.0 311.2,585.0 312.7,586.0 312.7,586.0 220.4,586.0" fill="#555"/>
<rect x="220.4" y="452.1" width="134.5" height="133.9" fill="none" stroke="#777" stroke-width="1.2"/>
<polyline points="220.9,584.0 221.9,584.6 224.2,584.5 228.8,583.5 233.4,582.7 238.0,582.4 241.1,581.5 244.2,580.8 245.7,578.1 247.2,576.5 249.5,575.8 251.1,571.9 252.6,566.5 254.2,562.7 255.7,559.6 257.2,555.0 258.3,548.8 259.2,541.2 260.3,535.0 261.4,531.9 262.3,530.4 263.4,532.7 264.2,529.6 265.0,521.0 265.8,511.5 267.3,502.3 268.4,497.7 269.3,499.2 270.2,491.5 270.8,485.4 271.8,493.1 272.7,485.4 273.5,474.6 274.2,471.5 275.0,485.4 275.8,476.2 276.5,468.5 277.3,476.9 278.1,466.9 278.8,460.0 279.6,463.8 280.4,474.6 281.2,475.4 282.2,473.1 283.2,468.5 284.1,470.8 285.0,464.6 285.9,466.9 286.5,473.1 287.2,479.2 288.1,483.1 289.0,485.4 289.6,491.5 290.4,499.2 291.2,506.9 292.1,513.1 293.0,517.7 293.9,522.3 295.0,530.4 296.1,541.2 297.0,550.4 298.1,558.8 299.2,560.4 300.4,559.6 301.3,565.8 302.2,571.9 303.5,576.5 305.0,578.8 306.5,580.4 308.1,581.9 310.4,583.5 312.7,583.5 315.0,583.0 317.3,584.2 321.9,585.0 331.2,585.4 354.2,585.4" fill="none" stroke="#000" stroke-width="1.65" stroke-linejoin="round"/>
<path d="M220.4 452.6V586.0" stroke="#555" stroke-width="1.2"/>
<path d="M221.5 573 L222.0 584" stroke="#777" stroke-width="1" fill="none"/>
<path d="M220.4 459.1h-4.6M220.4 465.4h-1.5M220.4 471.8h-1.5M220.4 478.1h-1.5M220.4 484.5h-4.6M220.4 490.8h-1.5M220.4 497.2h-1.5M220.4 503.5h-1.5M220.4 509.9h-4.6M220.4 516.2h-1.5M220.4 522.5h-1.5M220.4 528.9h-1.5M220.4 535.2h-4.6M220.4 541.6h-1.5M220.4 547.9h-1.5M220.4 554.3h-1.5M220.4 560.6h-4.6M220.4 567.0h-1.5M220.4 573.3h-1.5M220.4 579.7h-1.5M220.4 586.0h-4.6" stroke="#333" stroke-width="0.8" fill="none"/>
<text class="yc" x="215.4" y="462.9">100</text>
<text class="yc" x="214.5" y="488.5">80</text>
<text class="yc" x="214.5" y="514.0">60</text>
<text class="yc" x="214.5" y="539.6">40</text>
<text class="yc" x="214.5" y="565.1">20</text>
<text class="yc" x="212.4" y="590.7">0</text>
<path d="M224.5 586.0v1.6M228.3 586.0v1.6M239.5 586.0v1.6M243.3 586.0v1.6M256.4 586.0v1.6M261.9 586.0v1.6M265.8 586.0v1.6M268.8 586.0v1.6M271.3 586.0v1.6M275.2 586.0v1.6M287.6 586.0v1.6M293.1 586.0v1.6M297.0 586.0v1.6M300.0 586.0v1.6M302.5 586.0v1.6M306.4 586.0v1.6M318.8 586.0v1.6M324.3 586.0v1.6M328.2 586.0v1.6M331.2 586.0v1.6M333.7 586.0v1.6M337.6 586.0v1.6M350.0 586.0v1.6" stroke="#333" stroke-width="0.8" fill="none" opacity="0.55"/>
<path d="M233.9 586.0v3.0M247.0 586.0v3.0M278.2 586.0v3.0M309.4 586.0v3.0M340.6 586.0v3.0" stroke="#333" stroke-width="0.8" fill="none"/>
<path d="M233.9 586.0v3.0" stroke="#333" stroke-width="1.6" fill="none"/>
<text class="xb" text-anchor="middle" x="233.0" y="598.8">0</text>
<text class="xb" text-anchor="middle" x="245.2" y="598.8">10</text>
<text class="xbs" x="249.2" y="596.5">2</text>
<text class="xb" text-anchor="middle" x="277.3" y="598.8">10</text>
<text class="xbs" x="281.3" y="596.5">3</text>
<text class="xb" text-anchor="middle" x="309.9" y="598.8">10</text>
<text class="xbs" x="313.9" y="596.5">4</text>
<text class="xb" text-anchor="middle" x="339.9" y="598.8">10</text>
<text class="xbs" x="343.9" y="596.5">5</text>
<polygon points="380.2,586.0 380.8,582.7 382.6,578.8 384.9,577.3 387.2,575.8 389.5,574.2 391.8,571.2 393.4,569.6 394.9,572.7 396.5,571.9 398.0,568.8 399.5,571.2 401.1,571.9 402.6,568.1 404.2,562.7 405.4,558.1 406.6,548.1 407.5,555.0 408.5,561.2 409.7,559.6 410.9,548.8 411.8,538.1 412.8,531.2 414.0,535.0 415.5,537.3 416.8,535.8 418.0,529.5 419.3,522.3 420.5,514.6 421.5,505.4 422.4,497.7 423.3,502.3 424.2,505.4 425.2,496.2 426.1,485.4 427.0,476.2 427.9,473.8 428.8,474.6 429.8,468.5 430.7,460.0 431.6,470.0 432.5,482.3 433.5,473.1 434.4,466.9 435.3,459.2 436.2,463.8 437.2,462.3 437.8,465.4 438.7,485.4 439.6,500.8 440.5,511.5 441.5,520.8 442.4,522.3 443.0,514.6 443.9,522.3 444.8,530.0 446.2,542.7 447.4,550.4 448.9,557.3 450.5,555.0 452.0,559.6 453.5,564.2 455.1,570.4 456.6,575.8 458.5,579.6 460.8,581.9 463.1,582.4 465.4,581.5 467.7,582.7 470.0,585.0 471.5,586.0 471.5,586.0 380.2,586.0" fill="#555"/>
<rect x="380.2" y="452.1" width="135.1" height="133.9" fill="none" stroke="#777" stroke-width="1.2"/>
<polyline points="380.2,585.4 380.8,573.5 382.6,571.9 384.2,569.6 385.7,568.8 387.2,571.2 388.8,572.7 390.3,571.9 391.8,569.6 393.4,567.3 394.9,568.1 396.5,570.4 398.0,569.6 399.5,567.3 401.1,565.8 402.6,564.2 404.2,562.7 405.4,563.5 406.6,561.2 407.8,558.8 409.1,560.4 410.3,561.2 411.5,558.8 412.8,555.0 414.0,551.2 415.2,548.8 416.5,550.4 417.7,552.7 418.9,551.2 419.8,545.8 420.8,539.6 421.7,533.5 422.8,528.0 423.8,521.0 424.8,512.0 426.1,503.8 427.3,501.5 428.5,503.1 429.8,503.8 431.0,504.6 431.9,506.9 432.8,510.0 433.8,502.3 434.7,493.1 435.6,490.0 436.2,480.8 437.0,470.0 437.8,466.2 438.5,473.1 439.3,483.8 440.1,494.6 440.8,501.5 441.6,494.6 442.4,483.8 443.2,475.4 443.9,472.3 444.7,476.2 445.5,482.3 446.1,484.6 446.8,476.2 447.6,466.9 448.4,464.6 449.2,463.8 449.9,460.0 450.7,463.8 451.3,473.1 451.9,483.8 452.7,493.1 453.5,496.2 454.7,496.2 455.9,495.4 456.8,499.2 457.8,505.4 458.7,500.8 459.6,495.4 460.5,499.2 461.5,508.5 462.4,519.2 463.4,530.4 464.3,538.1 465.2,545.8 466.2,553.5 467.1,561.2 468.3,566.5 469.5,571.9 470.8,578.1 472.0,582.7 473.8,584.2 476.9,585.0 483.1,585.4 489.2,584.2 492.3,585.4 515.0,585.4" fill="none" stroke="#000" stroke-width="1.65" stroke-linejoin="round"/>
<path d="M380.2 452.6V586.0" stroke="#000" stroke-width="2.6"/>
<path d="M380.2 459.1h-4.6M380.2 465.4h-1.5M380.2 471.8h-1.5M380.2 478.1h-1.5M380.2 484.5h-4.6M380.2 490.8h-1.5M380.2 497.2h-1.5M380.2 503.5h-1.5M380.2 509.9h-4.6M380.2 516.2h-1.5M380.2 522.5h-1.5M380.2 528.9h-1.5M380.2 535.2h-4.6M380.2 541.6h-1.5M380.2 547.9h-1.5M380.2 554.3h-1.5M380.2 560.6h-4.6M380.2 567.0h-1.5M380.2 573.3h-1.5M380.2 579.7h-1.5M380.2 586.0h-4.6" stroke="#333" stroke-width="0.8" fill="none"/>
<text class="yc" x="374.2" y="461.2">100</text>
<text class="yc" x="373.3" y="487.1">80</text>
<text class="yc" x="373.3" y="513.0">60</text>
<text class="yc" x="373.3" y="538.9">40</text>
<text class="yc" x="373.3" y="564.8">20</text>
<text class="yc" x="371.2" y="590.7">0</text>
<path d="M384.3 586.0v1.6M388.1 586.0v1.6M399.3 586.0v1.6M403.1 586.0v1.6M416.2 586.0v1.6M421.7 586.0v1.6M425.6 586.0v1.6M428.6 586.0v1.6M431.1 586.0v1.6M435.0 586.0v1.6M447.4 586.0v1.6M452.9 586.0v1.6M456.8 586.0v1.6M459.8 586.0v1.6M462.3 586.0v1.6M466.2 586.0v1.6M478.6 586.0v1.6M484.1 586.0v1.6M488.0 586.0v1.6M491.0 586.0v1.6M493.5 586.0v1.6M497.4 586.0v1.6M509.8 586.0v1.6" stroke="#333" stroke-width="0.8" fill="none" opacity="0.55"/>
<path d="M393.7 586.0v3.0M406.8 586.0v3.0M438.0 586.0v3.0M469.2 586.0v3.0M500.4 586.0v3.0" stroke="#333" stroke-width="0.8" fill="none"/>
<path d="M393.7 586.0v3.0" stroke="#333" stroke-width="1.6" fill="none"/>
<text class="xb" text-anchor="middle" x="392.8" y="598.8">0</text>
<text class="xb" text-anchor="middle" x="405.0" y="598.8">10</text>
<text class="xbs" x="409.0" y="596.5">2</text>
<text class="xb" text-anchor="middle" x="437.1" y="598.8">10</text>
<text class="xbs" x="441.1" y="596.5">3</text>
<text class="xb" text-anchor="middle" x="469.7" y="598.8">10</text>
<text class="xbs" x="473.7" y="596.5">4</text>
<text class="xb" text-anchor="middle" x="499.7" y="598.8">10</text>
<text class="xbs" x="503.7" y="596.5">5</text>
<rect x="95.5" y="643" width="55.5" height="18.5" fill="#555"/>
<text class="lg" x="157.6" y="659.1">Control BM</text>
<rect x="304" y="644" width="54" height="17.2" fill="#fff" stroke="#000" stroke-width="2"/>
<text class="lg" x="364.3" y="659.1">Leukemia</text>
</svg></body></html>
